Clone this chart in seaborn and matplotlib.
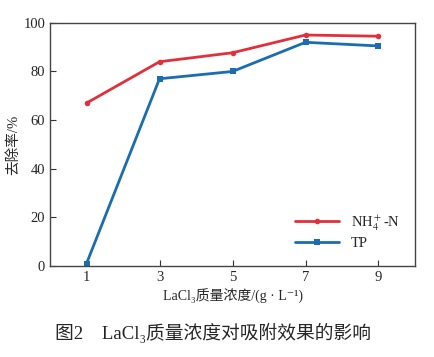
import seaborn as sns
import pandas as pd
import matplotlib.pyplot as plt

# LaCl3 dose (g/L) and removal rate (%)
dose = [1, 3, 5, 7, 9]
nh4_removal = [67, 84, 87.7, 95, 94.5]
tp_removal = [1, 77, 80, 92, 90.5]

sns.set_style("ticks")
plt.rcParams['font.family'] = ['Liberation Serif', 'Noto Sans CJK SC', 'DejaVu Serif']
plt.rcParams['mathtext.fontset'] = 'stix'

data = pd.DataFrame({
    "dose": dose * 2,
    "rate": nh4_removal + tp_removal,
    "item": ["NH$_4^+$-N"] * 5 + ["TP"] * 5,
})

fig = plt.figure(figsize=(4.35, 3.57), dpi=100)
ax = fig.add_axes([0.115, 0.255, 0.839, 0.681])

sns.lineplot(data=data, x="dose", y="rate", hue="item", style="item",
             markers={"NH$_4^+$-N": "o", "TP": "s"}, dashes=False,
             palette={"NH$_4^+$-N": "#e0303c", "TP": "#1a6db0"},
             linewidth=2, markersize=4, markeredgewidth=0, ax=ax)

ax.set_xlim(0, 10)
ax.set_ylim(0, 100)
ax.set_xticks(dose)
ax.set_yticks([0, 20, 40, 60, 80, 100])
ax.tick_params(direction="in", length=4, labelsize=10.5, color="#333333")
for s in ax.spines.values():
    s.set_color("#444444")
    s.set_linewidth(1)

# mathtext has no CJK fallback, so use unicode sub/superscripts here
ax.set_xlabel("LaCl₃质量浓度/(g · L⁻¹)", fontsize=10)
ax.set_ylabel("去除率/%", fontsize=10.5, labelpad=2)

ax.legend(title=None, frameon=False, loc="lower right", fontsize=10.5,
          handlelength=3, labelspacing=0.3, bbox_to_anchor=(0.995, 0.01))

fig.text(0.49, 0.05, "图2　LaCl₃质量浓度对吸附效果的影响", ha="center",
         fontsize=13.5)

fig.savefig("out.png", dpi=100)
